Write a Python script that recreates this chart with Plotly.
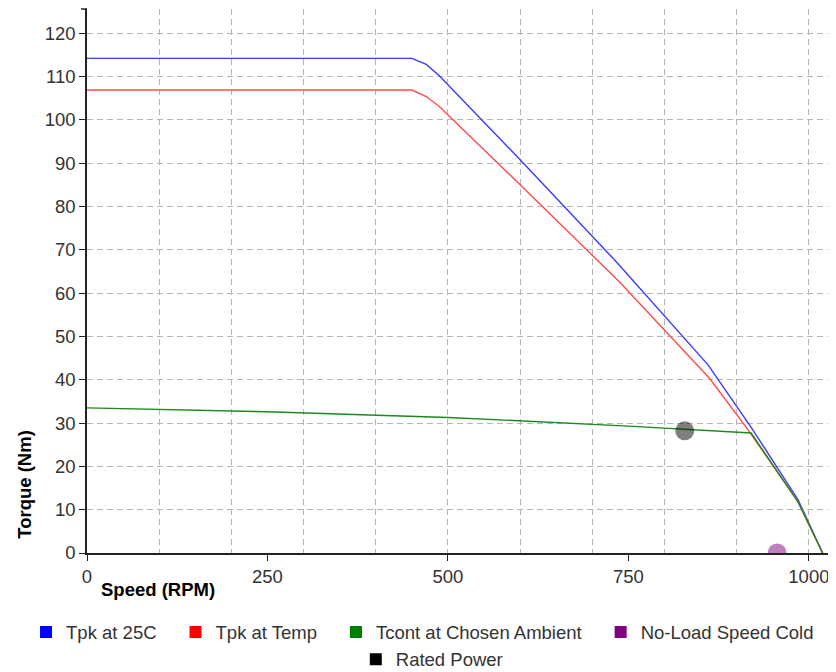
import plotly.graph_objects as go

# Curvas de torque x velocidade
speed_25c = [0, 450, 470, 488, 600, 730, 860, 920, 985, 1019]
torque_25c = [114.2, 114.2, 112.8, 110.2, 90.8, 67.8, 43.5, 29.0, 12.3, 0]

speed_temp = [0, 450, 470, 488, 600, 703, 737, 862, 915, 985, 1019]
torque_temp = [106.9, 106.9, 105.4, 103.1, 85.0, 68.1, 62.7, 40.4, 28.6, 11.8, 0]

speed_cont = [0, 250, 500, 617, 750, 920, 985, 1019]
torque_cont = [33.5, 32.6, 31.3, 30.4, 29.3, 27.7, 11.8, 0]

no_load_speed = [956]
no_load_torque = [0]

rated_speed = [828]
rated_torque = [28.2]

x_ticks = [0, 250, 500, 750, 1000]

FONT = 'Liberation Sans, Arial, sans-serif'
TEXT = '#333333'
FS = 18.5
PAD = '\u00a0\u00a0\u2009'

fig = go.Figure()

lines = [
    ('Tpk at 25C', speed_25c, torque_25c, '#3b3bff'),
    ('Tpk at Temp', speed_temp, torque_temp, '#ff4b4b'),
    ('Tcont at Chosen Ambient', speed_cont, torque_cont, '#1a8a1a'),
]
for name, xs, ys, color in lines:
    fig.add_trace(go.Scatter(
        x=xs, y=ys, mode='lines', name=name,
        line=dict(color=color, width=1.4),
        showlegend=False, hoverinfo='skip'
    ))

# Pontos
fig.add_trace(go.Scatter(
    x=no_load_speed, y=no_load_torque, mode='markers',
    marker=dict(color='rgba(128,0,128,0.5)', size=19),
    showlegend=False, cliponaxis=True
))
fig.add_trace(go.Scatter(
    x=rated_speed, y=rated_torque, mode='markers',
    marker=dict(color='rgba(0,0,0,0.5)', size=19),
    showlegend=False
))

# Legenda com quadrados (duas linhas)
legend_items = [
    ('Tpk at 25C', '#0000ff', 'legend'),
    ('Tpk at Temp', '#ff0000', 'legend'),
    ('Tcont at Chosen Ambient', '#008000', 'legend'),
    ('No-Load Speed Cold', '#800080', 'legend'),
    ('Rated Power', '#000000', 'legend2'),
]
for name, color, leg in legend_items:
    fig.add_trace(go.Scatter(
        x=[None], y=[None], mode='markers', name=name + PAD, legend=leg,
        marker=dict(color=color, symbol='square', size=12)
    ))

legend_style = dict(orientation='h', xanchor='left', yanchor='middle',
                    font=dict(size=FS, color=TEXT, family=FONT),
                    bgcolor='rgba(0,0,0,0)', itemsizing='constant')

# a página tem 8px de margem no body: a figura fica 8px menor
fig.update_layout(
    width=828, height=664,
    margin=dict(l=79, r=3.5, t=1, b=118.7, autoexpand=False),
    paper_bgcolor='white', plot_bgcolor='white',
    font=dict(family=FONT, size=FS, color=TEXT),
    legend=dict(x=-0.0818, y=-0.146, **legend_style),
    legend2=dict(x=0.3608, y=-0.196, **legend_style),
    annotations=[
        dict(text='<b>Speed (RPM)</b>', x=0.0161, xref='paper', y=-0.0674, yref='paper',
             xanchor='left', yanchor='middle', showarrow=False,
             font=dict(size=FS, color='#000000', family=FONT)),
        dict(text='<b>Torque (Nm)</b>', x=-0.0832, xref='paper', y=0.1255, yref='paper',
             xanchor='center', yanchor='middle', showarrow=False, textangle=-90,
             font=dict(size=FS, color='#000000', family=FONT)),
    ],
    shapes=[
        # pequenos ticks nas extremidades dos eixos
        dict(type='line', xref='paper', yref='paper', xsizemode='pixel', xanchor=0,
             x0=-6, x1=0, y0=1, y1=1, line=dict(color='#222222', width=1.5)),
        dict(type='line', xref='paper', yref='paper', ysizemode='pixel', yanchor=0,
             x0=1, x1=1, y0=-6, y1=0, line=dict(color='#222222', width=1.5)),
    ]
)

fig.update_xaxes(
    range=[0, 1032], tickvals=x_ticks, showgrid=False, zeroline=False,
    showline=True, linecolor='#222222', linewidth=1.5,
    ticks='outside', ticklen=6, tickcolor='#222222',
    minor=dict(dtick=100, tick0=0, showgrid=True, gridcolor='#b5b5b5',
               griddash='6px,4px', gridwidth=1, ticks=''),
)
fig.update_yaxes(
    range=[0, 125.6], dtick=10, showgrid=True, gridcolor='#b5b5b5',
    griddash='6px,4px', gridwidth=1, zeroline=False,
    showline=True, linecolor='#222222', linewidth=1.5,
    ticks='outside', ticklen=6, tickcolor='#222222',
)

fig.write_html("out.html")
